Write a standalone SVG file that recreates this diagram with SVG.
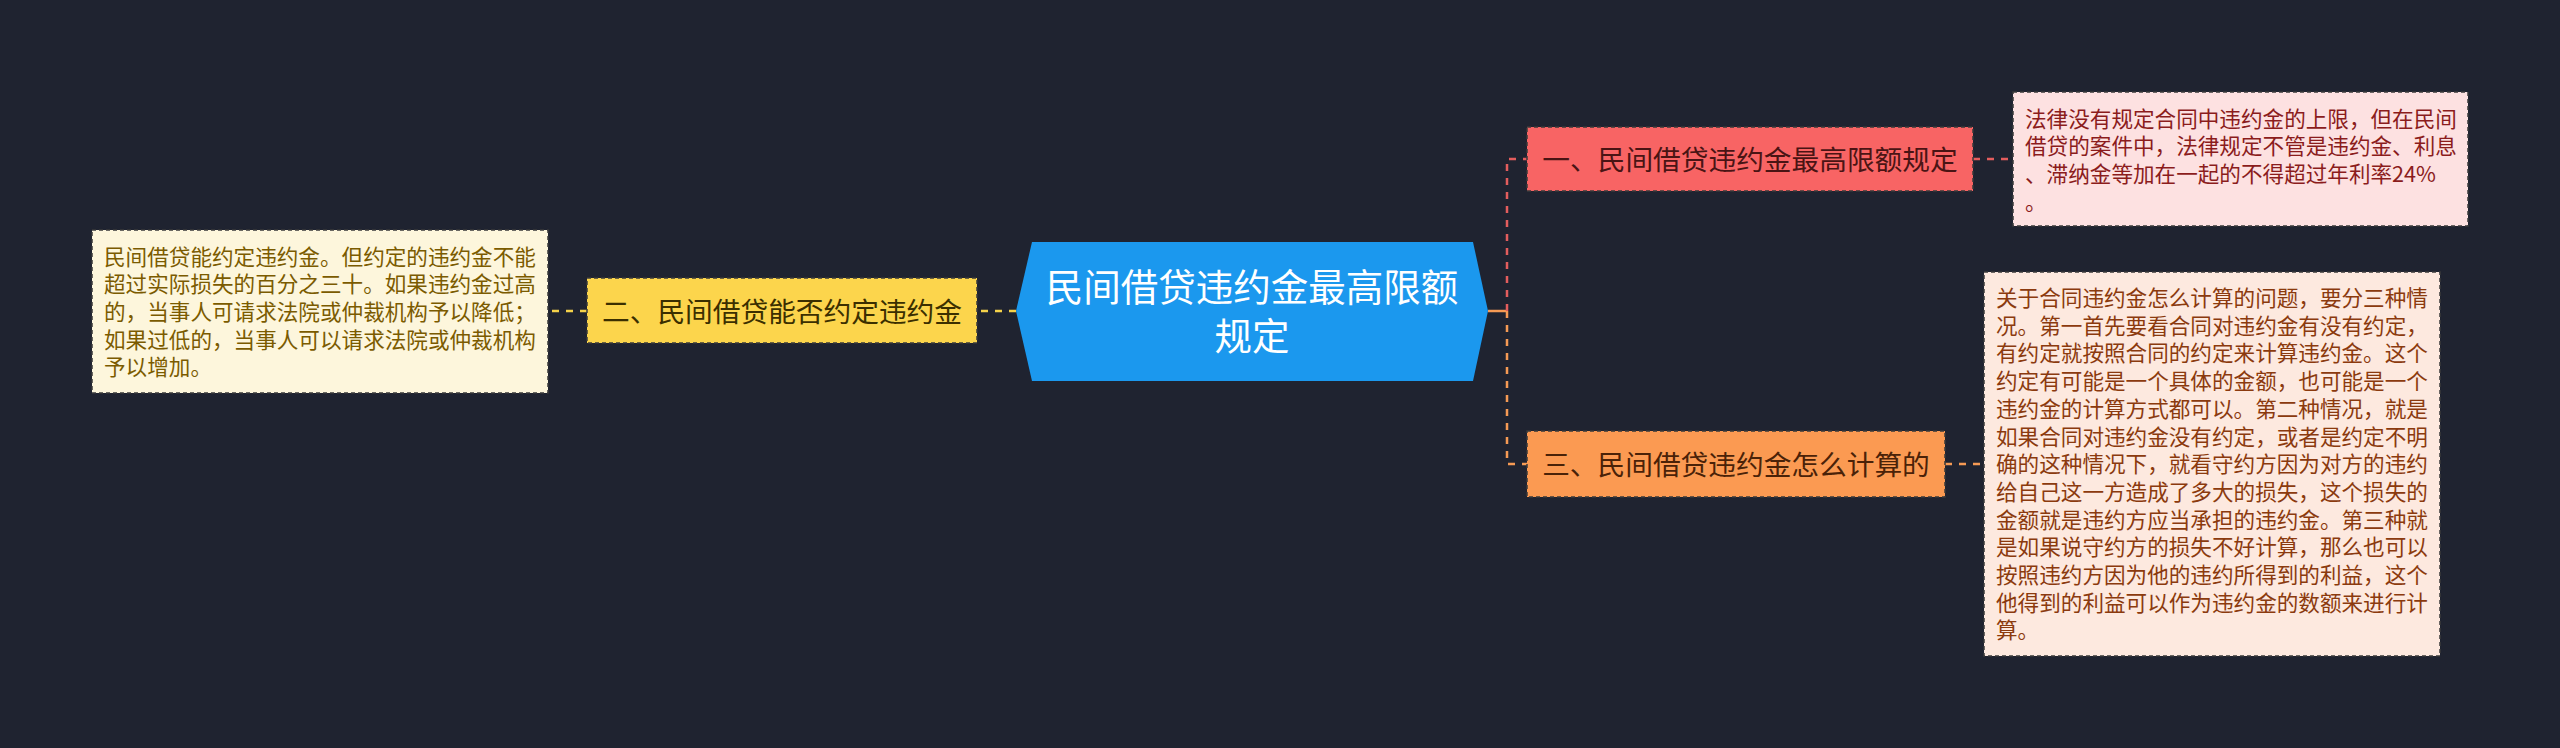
<svg xmlns="http://www.w3.org/2000/svg" width="2560" height="748" viewBox="0 0 2560 748">
<style>
text{font-family:"Noto Sans CJK SC","Noto Sans",sans-serif;}
.conn{fill:none;stroke-width:2.5;stroke-dasharray:7 7;}
.box{stroke:#3a3a3a;stroke-width:1.5;stroke-dasharray:4 3;}
.small{font-size:21.6px;}
.mid{font-size:27.7px;text-anchor:middle;}
.title{font-size:37.5px;text-anchor:middle;fill:#ffffff;}
</style>
<rect x="0" y="0" width="2560" height="748" fill="#1f2330"/>
<g id="connectors">
  <path class="conn" stroke="#f5d24a" d="M1016,311 L977,311"/>
  <path class="conn" stroke="#f5d24a" d="M587,311 L548,311"/>
  <path fill="none" stroke="#f59a54" stroke-width="2.5" d="M1488,311 L1507,311"/>
  <path class="conn" stroke="#e35d5d" d="M1507,311 L1507,159 L1527,159"/>
  <path class="conn" stroke="#f59a54" d="M1507,311 L1507,464 L1527,464"/>
  <path class="conn" stroke="#e35d5d" d="M1973,159 L2013,159"/>
  <path class="conn" stroke="#f59a54" d="M1945,464 L1984,464"/>
</g>
<g id="center">
  <polygon points="1016,311 1032,242 1473,242 1488,311 1473,381 1032,381" fill="#1b98ee"/>
  <text class="title" x="1252" y="301">民间借贷违约金最高限额</text>
  <text class="title" x="1252" y="350">规定</text>
</g>
<g id="node2">
  <rect class="box" x="587" y="278" width="390" height="65" fill="#fcd54c"/>
  <text class="mid" x="782" y="321.5" fill="#3b2f00">二、民间借贷能否约定违约金</text>
</g>
<g id="note2">
  <rect class="box" x="92" y="230" width="456" height="163" fill="#fdf6dc"/>
  <text class="small" fill="#7b5b00">
    <tspan x="104" y="264.5">民间借贷能约定违约金。但约定的违约金不能</tspan>
    <tspan x="104" y="292.2">超过实际损失的百分之三十。如果违约金过高</tspan>
    <tspan x="104" y="319.9">的，当事人可请求法院或仲裁机构予以降低；</tspan>
    <tspan x="104" y="347.6">如果过低的，当事人可以请求法院或仲裁机构</tspan>
    <tspan x="104" y="375.3">予以增加。</tspan>
  </text>
</g>
<g id="node1">
  <rect class="box" x="1527" y="127" width="446" height="64" fill="#f86464"/>
  <text class="mid" x="1750" y="169.5" fill="#4a1414">一、民间借贷违约金最高限额规定</text>
</g>
<g id="note1">
  <rect class="box" x="2013" y="92" width="455" height="134" fill="#fde1e1"/>
  <text class="small" fill="#8b1c1c">
    <tspan x="2025" y="126.5">法律没有规定合同中违约金的上限，但在民间</tspan>
    <tspan x="2025" y="154.2">借贷的案件中，法律规定不管是违约金、利息</tspan>
    <tspan x="2025" y="181.9">、滞纳金等加在一起的不得超过年利率24%</tspan>
    <tspan x="2025" y="209.6">。</tspan>
  </text>
</g>
<g id="node3">
  <rect class="box" x="1527" y="431" width="418" height="66" fill="#fb9a52"/>
  <text class="mid" x="1736" y="474.5" fill="#4a2208">三、民间借贷违约金怎么计算的</text>
</g>
<g id="note3">
  <rect class="box" x="1984" y="272" width="456" height="384" fill="#fde9df"/>
  <text class="small" fill="#8b3a0e">
    <tspan x="1996" y="306">关于合同违约金怎么计算的问题，要分三种情</tspan>
    <tspan x="1996" y="333.7">况。第一首先要看合同对违约金有没有约定，</tspan>
    <tspan x="1996" y="361.4">有约定就按照合同的约定来计算违约金。这个</tspan>
    <tspan x="1996" y="389.1">约定有可能是一个具体的金额，也可能是一个</tspan>
    <tspan x="1996" y="416.8">违约金的计算方式都可以。第二种情况，就是</tspan>
    <tspan x="1996" y="444.5">如果合同对违约金没有约定，或者是约定不明</tspan>
    <tspan x="1996" y="472.2">确的这种情况下，就看守约方因为对方的违约</tspan>
    <tspan x="1996" y="499.9">给自己这一方造成了多大的损失，这个损失的</tspan>
    <tspan x="1996" y="527.6">金额就是违约方应当承担的违约金。第三种就</tspan>
    <tspan x="1996" y="555.3">是如果说守约方的损失不好计算，那么也可以</tspan>
    <tspan x="1996" y="583">按照违约方因为他的违约所得到的利益，这个</tspan>
    <tspan x="1996" y="610.7">他得到的利益可以作为违约金的数额来进行计</tspan>
    <tspan x="1996" y="638.4">算。</tspan>
  </text>
</g>
</svg>
